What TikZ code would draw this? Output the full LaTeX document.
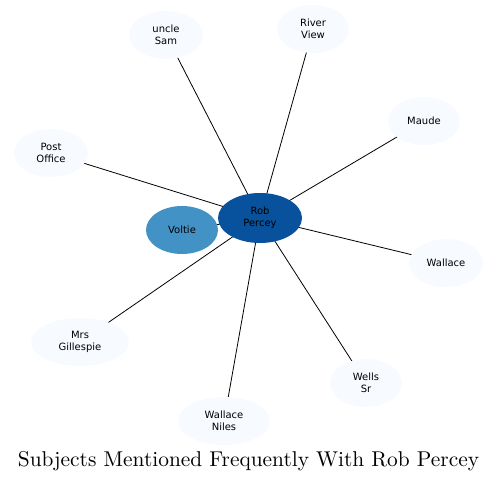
\documentclass[tikz,border=0pt]{standalone}
\usepackage{fontspec}
\newfontfamily\nodefont{DejaVu Sans}
\newfontfamily\titlefont{lmroman10-regular.otf}
\usetikzlibrary{shapes.geometric,backgrounds}
\definecolor{hub}{HTML}{08519C}
\definecolor{mid}{HTML}{4292C6}
\definecolor{leaf}{HTML}{F7FBFF}
\begin{document}
\begin{tikzpicture}[x=1pt,y=-1pt,
  bub/.style={ellipse,draw=none,fill=leaf,inner sep=0pt,minimum height=48pt,align=center,font=\nodefont\fontsize{10}{12}\selectfont},
  link/.style={draw=black,line width=0.8pt}]
\useasboundingbox (0,0) rectangle (497,482);
\node[bub,fill=hub,minimum width=84pt,minimum height=50pt] (rob) at (260,218) {Rob\\Percey};
\node[bub,fill=mid,minimum width=72pt] (voltie) at (182,230) {Voltie};
\node[bub,minimum width=74pt] (sam) at (166,35) {uncle\\Sam};
\node[bub,minimum width=72pt] (river) at (313,29) {River\\View};
\node[bub,minimum width=72pt] (maude) at (424,121) {Maude};
\node[bub,minimum width=74pt] (post) at (51,153) {Post\\Office};
\node[bub,minimum width=74pt] (wallace) at (446,263) {Wallace};
\node[bub,minimum width=98pt] (mrs) at (80,342) {Mrs\\Gillespie};
\node[bub,minimum width=72pt] (wells) at (366,383) {Wells\\Sr};
\node[bub,minimum width=92pt] (niles) at (224,421) {Wallace\\Niles};
\node[font=\titlefont\fontsize{21.4}{24}\selectfont] (title) at (248.5,461) {Subjects Mentioned Frequently With Rob Percey};
\begin{scope}[on background layer]
\foreach \n in {voltie,sam,river,maude,post,wallace,mrs,wells,niles}
  \draw[link] (rob.center) -- (\n.center);
\end{scope}
\end{tikzpicture}
\end{document}
